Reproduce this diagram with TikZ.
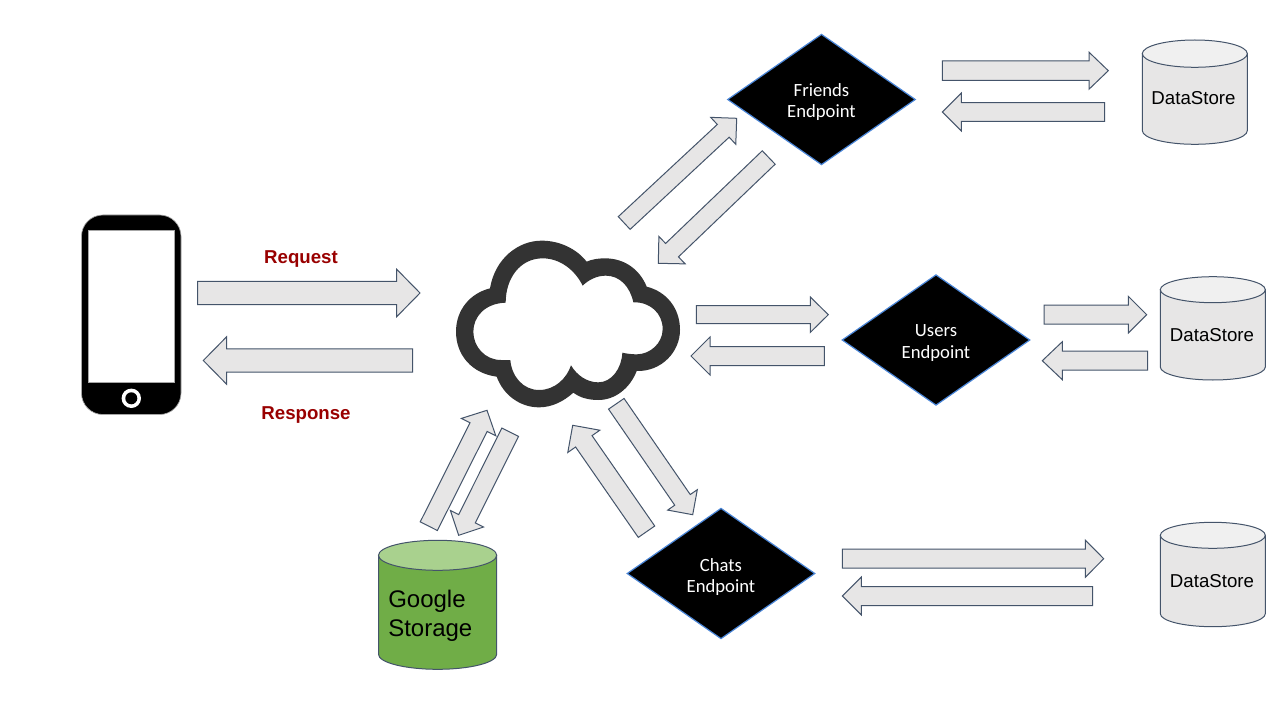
\documentclass[tikz,border=0pt]{standalone}
\usepackage{fontspec}
\setmainfont{Liberation Sans}
\newfontfamily\calib{Carlito}
\usetikzlibrary{shapes.geometric}
\definecolor{edge}{HTML}{44546A}
\definecolor{lightgrey}{HTML}{E7E6E6}
\definecolor{toplight}{HTML}{F0F0F0}
\definecolor{diaedge}{HTML}{4A86D8}
\definecolor{darkred}{HTML}{990000}
\definecolor{cloudgrey}{HTML}{333333}
\definecolor{gsgreen}{HTML}{70AD47}
\definecolor{gstop}{HTML}{A9D18E}
\tikzset{
  x=0.75pt,y=-0.75pt,
  blockarrow/.style={draw=edge,fill=lightgrey,line width=0.75pt,line join=miter},
  cylside/.style={draw=edge,line width=0.75pt},
  endpoint/.style={shape=diamond,aspect=1.446,draw=diaedge,fill=black,line width=0.9pt,
    minimum width=141pt,minimum height=98pt,inner sep=0pt},
  endpointlabel/.style={text=white,align=center,inner sep=0pt,
    font=\calib\fontsize{14}{16.4}\selectfont},
  storelabel/.style={font=\fontsize{14}{16}\selectfont,anchor=base,text=black},
  msg/.style={font=\bfseries\fontsize{14}{16}\selectfont,anchor=base,text=darkred},
}
% name, tail x,y, tip x,y, body half, head half, head length
\newcommand{\barrow}[8]{%
  \coordinate (#1-tail) at (#2,#3);
  \coordinate (#1-tip) at (#4,#5);
  \pgfmathsetmacro{\dxx}{#4-(#2)}%
  \pgfmathsetmacro{\dyy}{#5-(#3)}%
  \pgfmathsetmacro{\lenn}{veclen(\dxx,\dyy)}%
  \pgfmathsetmacro{\ux}{\dxx/\lenn}%
  \pgfmathsetmacro{\uy}{\dyy/\lenn}%
  \pgfmathsetmacro{\nkx}{#4-\ux*#8}%
  \pgfmathsetmacro{\nky}{#5-\uy*#8}%
  \draw[blockarrow]
    (#2-\uy*#6,#3+\ux*#6) -- (\nkx-\uy*#6,\nky+\ux*#6) --
    (\nkx-\uy*#7,\nky+\ux*#7) -- (#1-tip) --
    (\nkx+\uy*#7,\nky-\ux*#7) -- (\nkx+\uy*#6,\nky-\ux*#6) --
    (#2+\uy*#6,#3-\ux*#6) -- cycle;
}
% left, right, top, ellipse bottom, bottom, body colour, top colour
\newcommand{\cyl}[7]{%
  \pgfmathsetmacro{\cxx}{(#1+#2)/2}%
  \pgfmathsetmacro{\ryy}{(#4-#3)/2}%
  \pgfmathsetmacro{\rxx}{(#2-#1)/2}%
  \pgfmathsetmacro{\cyy}{#3+\ryy}%
  \pgfmathsetmacro{\byy}{#5-\ryy}%
  \pgfmathsetmacro{\kx}{0.5523*\rxx}%
  \pgfmathsetmacro{\ky}{0.5523*\ryy}%
  \draw[cylside,fill=#6] (#1,\cyy) -- (#1,\byy)
    .. controls (#1,\byy+\ky) and (\cxx-\kx,#5) .. (\cxx,#5)
    .. controls (\cxx+\kx,#5) and (#2,\byy+\ky) .. (#2,\byy)
    -- (#2,\cyy) -- cycle;
  \draw[cylside,fill=#7] (\cxx,\cyy) ellipse [x radius=\rxx,y radius=\ryy];
}
\begin{document}
\begin{tikzpicture}
\useasboundingbox[fill=white] (0,0) rectangle (1280,720);

% phone
\fill[black,draw=black!35,line width=0.5pt,rounded corners=16pt] (81.5,215) rectangle (181,414.5);
\fill[white,draw=black!35,line width=0.5pt] (88,230.5) rectangle (174.5,382);
\fill[white] (131.3,398.3) circle [radius=9.7];
\fill[black] (131.3,398.3) circle [radius=6];

% request / response
\barrow{req}{197.5}{293}{420}{293}{11.7}{23.7}{23.3}
\barrow{res}{412.7}{360.5}{203.3}{360.5}{11.7}{23.7}{23.3}
\node[msg] (reqlabel) at (301,263) {Request};
\node[msg] (reslabel) at (306,419) {Response};

% cloud
\begin{scope}[shift={(440,225)},x=0.25pt,y=-0.25pt]
\fill[cloudgrey,even odd rule]
  (150,190) .. controls (165,100) and (235,47) .. (305,47)
  .. controls (360,47) and (410,72) .. (440,110)
  .. controls (455,103) and (475,100) .. (495,100)
  .. controls (555,100) and (600,135) .. (620,185)
  .. controls (680,200) and (720,250) .. (720,315)
  .. controls (720,380) and (665,440) .. (590,438)
  .. controls (570,490) and (525,525) .. (475,525)
  .. controls (445,525) and (420,518) .. (400,503)
  .. controls (370,530) and (335,547) .. (297,547)
  .. controls (240,547) and (190,510) .. (170,455)
  .. controls (95,445) and (48,390) .. (48,320)
  .. controls (48,255) and (90,205) .. (150,190) -- cycle
  (197,233) .. controls (197,160) and (240,100) .. (308,100)
  .. controls (360,100) and (405,135) .. (428,182)
  .. controls (445,165) and (470,152) .. (497,152)
  .. controls (540,152) and (570,185) .. (580,232)
  .. controls (630,230) and (668,265) .. (668,312)
  .. controls (668,355) and (630,388) .. (590,388)
  .. controls (575,388) and (560,386) .. (547,383)
  .. controls (545,430) and (515,472) .. (475,472)
  .. controls (440,472) and (410,450) .. (393,421)
  .. controls (380,460) and (345,495) .. (297,495)
  .. controls (250,495) and (215,455) .. (211,405)
  -- (183,405)
  .. controls (135,405) and (100,365) .. (100,320)
  .. controls (100,275) and (135,235) .. (197,233) -- cycle;
\end{scope}

% endpoints
\node[endpoint] (friends) at (821.5,99.5) {};
\node[endpointlabel] (friendslabel) at (821.5,102) {Friends\\Endpoint};
\node[endpoint] (users) at (936,340) {};
\node[endpointlabel] (userslabel) at (936,343) {Users\\Endpoint};
\node[endpoint] (chats) at (721,573.5) {};
\node[endpointlabel] (chatslabel) at (721,577) {Chats\\Endpoint};

% cloud <-> friends
\barrow{fa}{624.2}{223}{736.7}{118.3}{8.7}{18.4}{18.4}
\barrow{fb}{768.7}{157.5}{658.3}{263.3}{9.3}{19}{19}
% cloud <-> users
\barrow{ua}{696.3}{314.7}{828.3}{314.7}{9}{17.7}{18}
\barrow{ub}{824.3}{356}{691}{356}{9.5}{19}{19}
% cloud <-> chats
\barrow{ca}{616.3}{403.8}{692.7}{514.7}{9.4}{18}{18}
\barrow{cb}{646.5}{531.7}{572.7}{425.3}{10}{19.5}{19.5}
% cloud <-> storage
\barrow{ga}{428.8}{526.2}{487}{410.3}{9.6}{19.3}{18.8}
\barrow{gb}{510.2}{432.2}{458.7}{535.3}{9.3}{18.5}{18.5}
% endpoints <-> stores
\barrow{da}{942.3}{70.7}{1108.3}{70.7}{9.7}{18.5}{19.3}
\barrow{db}{1104.7}{112}{942.3}{112}{9.3}{19}{19}
\barrow{ea}{1044}{314.7}{1146.7}{314.7}{9.5}{18.3}{18.3}
\barrow{eb}{1147.7}{360.7}{1042.3}{360.7}{9.5}{19}{20}
\barrow{ha}{842.3}{558.7}{1103.7}{558.7}{9.5}{18.5}{18.3}
\barrow{hb}{1092.7}{596}{842.3}{596}{9.5}{19}{19}

% stores
\cyl{1142.3}{1247.3}{40}{67.3}{144.3}{lightgrey}{toplight}
\node[storelabel] (ds1) at (1193.5,105) {DataStore};
\cyl{1160.3}{1265.3}{276.7}{302.7}{380}{lightgrey}{toplight}
\node[storelabel] (ds2) at (1212,341) {DataStore};
\cyl{1160.3}{1265.3}{522.3}{548.3}{626.7}{lightgrey}{toplight}
\node[storelabel] (ds3) at (1212,587) {DataStore};

\cyl{378.5}{496.7}{540.3}{570.3}{669.3}{gsgreen}{gstop}
\node[font=\fontsize{18}{21.75}\selectfont,align=left,inner sep=0pt,anchor=west,text=black] (gs) at (388,615.5) {Google\\Storage};
\end{tikzpicture}
\end{document}
